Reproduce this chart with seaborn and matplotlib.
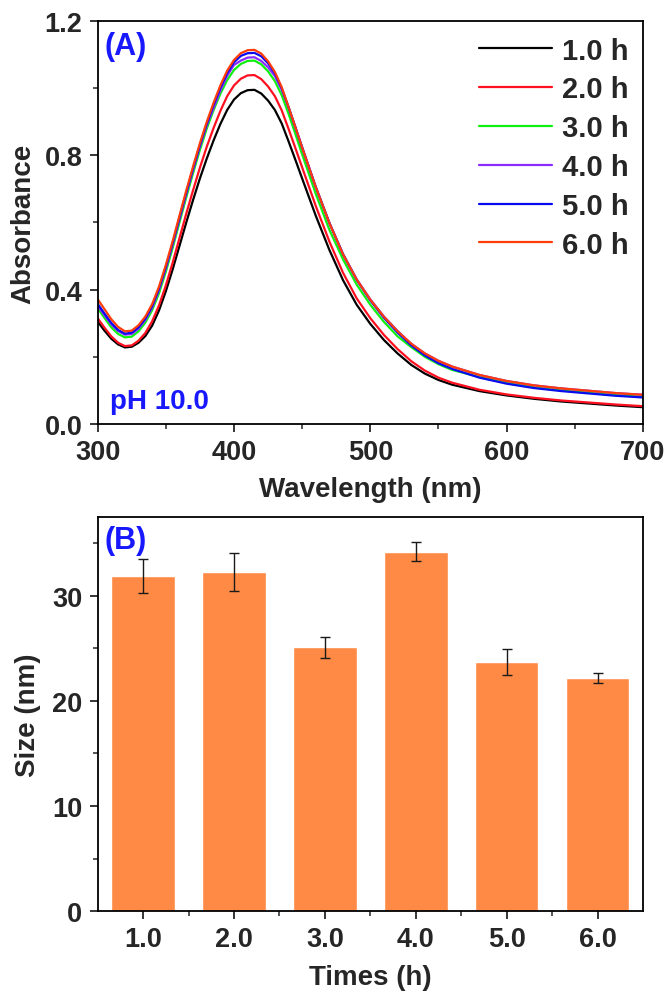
import numpy as np
import pandas as pd
import matplotlib
matplotlib.use("Agg")
import matplotlib.pyplot as plt
import seaborn as sns
from matplotlib.ticker import MultipleLocator, FixedLocator

# ---------------- data ----------------
wavelength = [300, 305, 310, 315, 320, 325, 330, 335, 340, 345, 350, 355, 360, 365, 370,
              375, 380, 385, 390, 395, 400, 405, 410, 415, 420, 425, 430, 435, 440, 445,
              450, 460, 470, 480, 490, 500, 510, 520, 530, 540, 550, 560, 580, 600, 620,
              640, 660, 680, 700]

abs_1h = [0.305, 0.278, 0.254, 0.237, 0.228, 0.230, 0.242, 0.262, 0.293, 0.338, 0.395, 0.460,
          0.530, 0.600, 0.667, 0.731, 0.790, 0.844, 0.893, 0.935, 0.966, 0.985, 0.994, 0.995,
          0.984, 0.963, 0.935, 0.895, 0.842, 0.787, 0.731, 0.620, 0.518, 0.428, 0.355, 0.298,
          0.250, 0.210, 0.176, 0.150, 0.131, 0.117, 0.098, 0.085, 0.075, 0.067, 0.061, 0.055,
          0.050]
abs_2h = [0.315, 0.287, 0.261, 0.242, 0.232, 0.234, 0.248, 0.271, 0.306, 0.353, 0.412, 0.480,
          0.553, 0.626, 0.696, 0.763, 0.825, 0.881, 0.932, 0.976, 1.008, 1.028, 1.038, 1.039,
          1.027, 1.005, 0.976, 0.934, 0.879, 0.822, 0.764, 0.649, 0.543, 0.450, 0.374, 0.315,
          0.265, 0.223, 0.187, 0.159, 0.138, 0.123, 0.102, 0.088, 0.078, 0.070, 0.064, 0.058,
          0.053]
abs_3h = [0.345, 0.316, 0.288, 0.268, 0.258, 0.260, 0.276, 0.302, 0.339, 0.389, 0.453, 0.524,
          0.600, 0.675, 0.747, 0.816, 0.879, 0.934, 0.983, 1.024, 1.054, 1.072, 1.081, 1.082,
          1.071, 1.050, 1.021, 0.979, 0.924, 0.864, 0.803, 0.685, 0.578, 0.490, 0.415, 0.355,
          0.304, 0.261, 0.229, 0.200, 0.178, 0.161, 0.140, 0.122, 0.109, 0.100, 0.093, 0.086,
          0.081]
abs_4h = [0.352, 0.324, 0.297, 0.277, 0.266, 0.268, 0.284, 0.310, 0.347, 0.399, 0.463, 0.534,
          0.610, 0.685, 0.757, 0.826, 0.889, 0.941, 0.993, 1.037, 1.069, 1.082, 1.091, 1.092,
          1.081, 1.062, 1.036, 0.995, 0.944, 0.885, 0.824, 0.706, 0.599, 0.506, 0.431, 0.371,
          0.320, 0.277, 0.239, 0.210, 0.188, 0.171, 0.146, 0.128, 0.115, 0.106, 0.099, 0.092,
          0.087]
abs_5h = [0.358, 0.329, 0.301, 0.280, 0.269, 0.272, 0.288, 0.314, 0.351, 0.403, 0.467, 0.538,
          0.614, 0.689, 0.761, 0.830, 0.893, 0.950, 1.001, 1.045, 1.077, 1.096, 1.104, 1.105,
          1.095, 1.074, 1.044, 1.000, 0.943, 0.883, 0.823, 0.705, 0.598, 0.505, 0.429, 0.368,
          0.316, 0.272, 0.234, 0.204, 0.181, 0.164, 0.138, 0.120, 0.107, 0.098, 0.091, 0.084,
          0.079]
abs_6h = [0.372, 0.342, 0.312, 0.289, 0.276, 0.278, 0.294, 0.320, 0.357, 0.409, 0.473, 0.544,
          0.620, 0.695, 0.767, 0.836, 0.899, 0.956, 1.008, 1.052, 1.084, 1.104, 1.113, 1.114,
          1.103, 1.080, 1.048, 1.003, 0.944, 0.884, 0.823, 0.705, 0.598, 0.505, 0.430, 0.370,
          0.319, 0.276, 0.239, 0.210, 0.188, 0.171, 0.146, 0.128, 0.115, 0.106, 0.099, 0.092,
          0.087]

series_labels = ["1.0 h", "2.0 h", "3.0 h", "4.0 h", "5.0 h", "6.0 h"]
series_values = [abs_1h, abs_2h, abs_3h, abs_4h, abs_5h, abs_6h]
series_colors = ["#000000", "#FF1020", "#10F010", "#8A2BFF", "#0A0AF0", "#FF3C0A"]

time_labels = ["1.0", "2.0", "3.0", "4.0", "5.0", "6.0"]
sizes = [31.9, 32.3, 25.1, 34.2, 23.7, 22.2]
size_err = [1.6, 1.8, 1.0, 0.9, 1.2, 0.5]
bar_color = "#FF8A45"

# ---------------- style ----------------
sns.set_style("ticks")
plt.rcParams["font.family"] = ["Liberation Sans", "DejaVu Sans"]
plt.rcParams["font.weight"] = "bold"
plt.rcParams["axes.labelweight"] = "bold"
plt.rcParams["axes.linewidth"] = 1.3

fig = plt.figure(figsize=(6.71, 10.04), dpi=100)
ax1 = fig.add_axes([0.1455, 0.5767, 0.8128, 0.4014])
ax2 = fig.add_axes([0.1455, 0.0916, 0.8128, 0.3924])

# ---------------- panel A ----------------
rows = []
for lab, vals in zip(series_labels, series_values):
    for w, v in zip(wavelength, vals):
        rows.append({"Wavelength": w, "Absorbance": v, "Time": lab})
df = pd.DataFrame(rows)
palette = dict(zip(series_labels, series_colors))
sns.lineplot(data=df, x="Wavelength", y="Absorbance", hue="Time", hue_order=series_labels,
             palette=palette, linewidth=1.6, estimator=None, ax=ax1)

ax1.set_xlim(300, 700)
ax1.set_ylim(0, 1.2)
ax1.xaxis.set_major_locator(MultipleLocator(100))
ax1.xaxis.set_minor_locator(MultipleLocator(50))
ax1.yaxis.set_major_locator(MultipleLocator(0.4))
ax1.yaxis.set_minor_locator(MultipleLocator(0.2))
ax1.yaxis.set_major_formatter(matplotlib.ticker.FormatStrFormatter("%.1f"))
ax1.set_xlabel("Wavelength (nm)", fontsize=20, fontweight="bold")
ax1.set_ylabel("Absorbance", fontsize=20, fontweight="bold")
ax1.xaxis.set_label_coords(0.5, -0.128)
ax1.yaxis.set_label_coords(-0.113, 0.5)

handles, labels = ax1.get_legend_handles_labels()
leg = ax1.legend(handles, labels, loc="upper right", bbox_to_anchor=(0.995, 0.99), frameon=False,
                 prop={"size": 21, "weight": "bold"}, handlelength=2.5, handletextpad=0.35,
                 labelspacing=0.37, borderaxespad=0.0)
for ln in leg.get_lines():
    ln.set_linewidth(1.6)

ax1.text(0.013, 0.938, "(A)", transform=ax1.transAxes, color="#1818FF", fontsize=22,
         fontweight="bold", va="center", ha="left")
ax1.text(0.022, 0.057, "pH 10.0", transform=ax1.transAxes, color="#1818FF", fontsize=20,
         fontweight="bold", va="center", ha="left")

# ---------------- panel B ----------------
sns.barplot(x=time_labels, y=sizes, color=bar_color, saturation=1, width=0.7,
            errorbar=None, ax=ax2)
ax2.errorbar(np.arange(len(sizes)), sizes, yerr=size_err, fmt="none", ecolor="#1a1a1a",
             elinewidth=1.0, capsize=3.5, capthick=1.0)
ax2.set_xlim(-0.5, 5.5)
ax2.set_ylim(0, 37.5)
ax2.yaxis.set_major_locator(MultipleLocator(10))
ax2.yaxis.set_minor_locator(MultipleLocator(5))
ax2.xaxis.set_minor_locator(FixedLocator([0.5, 1.5, 2.5, 3.5, 4.5]))
ax2.set_xlabel("Times (h)", fontsize=20, fontweight="bold")
ax2.set_ylabel("Size (nm)", fontsize=20, fontweight="bold")
ax2.xaxis.set_label_coords(0.5, -0.135)
ax2.yaxis.set_label_coords(-0.104, 0.5)
ax2.text(0.013, 0.942, "(B)", transform=ax2.transAxes, color="#1818FF", fontsize=22,
         fontweight="bold", va="center", ha="left")

for ax in (ax1, ax2):
    for sp in ax.spines.values():
        sp.set_visible(True)
        sp.set_linewidth(1.3)
        sp.set_color("black")
    ax.tick_params(which="major", direction="out", length=6, width=1.3, labelsize=19.5,
                   pad=5, top=False, right=False)
    ax.tick_params(which="minor", direction="out", length=3.5, width=1.1,
                   top=False, right=False)
    for t in ax.get_xticklabels() + ax.get_yticklabels():
        t.set_fontweight("bold")

fig.savefig("out.png", dpi=100, facecolor="white")
